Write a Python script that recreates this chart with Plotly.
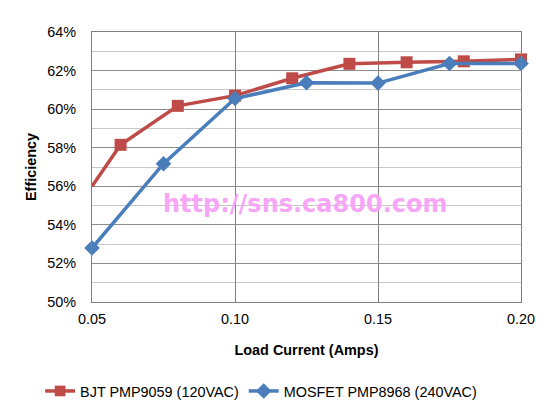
import plotly.graph_objects as go

bjt_x = [0.05, 0.06, 0.08, 0.10, 0.12, 0.14, 0.16, 0.18, 0.20]
bjt_y = [0.560, 0.5815, 0.6017, 0.6070, 0.6160, 0.6235, 0.6243, 0.6248, 0.6258]
mos_x = [0.05, 0.075, 0.10, 0.125, 0.15, 0.175, 0.20]
mos_y = [0.5280, 0.5717, 0.6055, 0.6137, 0.6135, 0.6237, 0.6237]
bjt_name = "BJT PMP9059 (120VAC)"
mos_name = "MOSFET PMP8968 (240VAC)"
x_ticks = [0.05, 0.10, 0.15, 0.20]
x_labels = ["0.05", "0.10", "0.15", "0.20"]

red = "#BE4B48"
blue = "#4A7EBB"
font = "Liberation Sans, Arial, sans-serif"
fs = 14.4

fig = go.Figure()
fig.add_trace(go.Scatter(
    x=bjt_x, y=bjt_y, name=bjt_name, mode="lines+markers",
    line=dict(color=red, width=3.5),
    marker=dict(symbol="square", size=[0] + [12] * (len(bjt_x) - 1), color=red,
                opacity=1, line=dict(width=0)),
    cliponaxis=False,
))
fig.add_trace(go.Scatter(
    x=mos_x, y=mos_y, name=mos_name, mode="lines+markers",
    line=dict(color=blue, width=3.5),
    marker=dict(symbol="diamond", size=12, color=blue, opacity=1, line=dict(width=0)),
    cliponaxis=False,
))

fig.add_annotation(
    x=0.5, y=0.5, xref="paper", yref="paper",
    text="<b>http://sns.ca800.com</b>", showarrow=False,
    font=dict(family="DejaVu Sans, sans-serif", size=24, color="#F7A6F7"),
    xshift=-2, yshift=-37,
)

fig.update_layout(
    width=550, height=416,
    margin=dict(l=84, r=37, t=24, b=122, autoexpand=False),
    paper_bgcolor="white", plot_bgcolor="white",
    font=dict(family=font, size=fs, color="#000000"),
    showlegend=True,
    legend=dict(orientation="h", x=-0.121, xanchor="left", y=-0.33, yanchor="middle",
                font=dict(size=fs), itemwidth=30, traceorder="normal"),
    xaxis=dict(
        range=[0.05, 0.20], tickvals=x_ticks, ticktext=x_labels,
        showgrid=True, gridcolor="#808080", gridwidth=1,
        showline=True, linecolor="#808080", linewidth=1, mirror=True,
        zeroline=False, ticks="", ticklen=0, ticklabelstandoff=4,
        title=dict(text="<b>Load Current (Amps)</b>", font=dict(size=fs), standoff=18),
        tickfont=dict(size=fs),
    ),
    yaxis=dict(
        range=[0.50, 0.64], dtick=0.02, tickformat=".0%",
        showgrid=True, gridcolor="#8C8C8C", gridwidth=1,
        minor=dict(dtick=0.01, showgrid=True, gridcolor="#C8C8C8", gridwidth=1),
        showline=True, linecolor="#808080", linewidth=1, mirror=True,
        zeroline=False, ticks="", ticklabelstandoff=12,
        title=dict(text="<b>Efficiency</b>", font=dict(size=fs), standoff=7),
        tickfont=dict(size=fs),
    ),
)

fig.write_html("out.html")
